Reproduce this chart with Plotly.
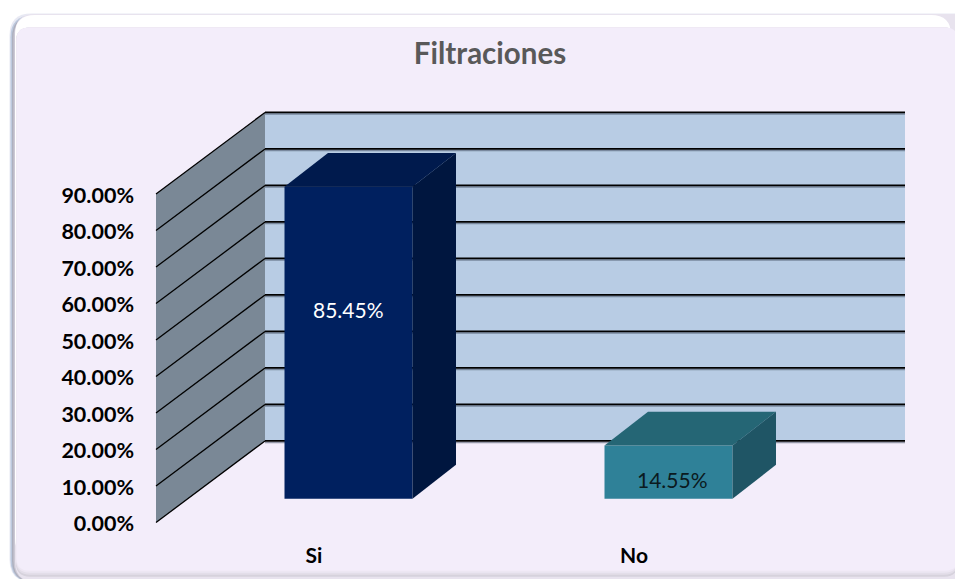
import plotly.graph_objects as go

# --- data ---
categories = ["Si", "No"]
values = [85.45, 14.55]
value_labels = ["85.45%", "14.55%"]
y_ticks = [0, 10, 20, 30, 40, 50, 60, 70, 80, 90]
y_tick_labels = ["0.00%", "10.00%", "20.00%", "30.00%", "40.00%", "50.00%", "60.00%", "70.00%", "80.00%", "90.00%"]

# --- pseudo-3D geometry, in axis units ---
X_UNIT = 320.0           # px per category
Y_UNIT = 3.667           # px per percentage point
Y_ZERO_PX = 524.5
WALL_DX = 109 / X_UNIT
WALL_DY = 82 / Y_UNIT
BAR_WIDTH = 128 / X_UNIT
BAR_DX = 43.5 / X_UNIT   # depth of a bar
BAR_DY = 34 / Y_UNIT
BAR_SHIFT_X = 32.5 / X_UNIT  # bar front relative to the floor's front edge
BAR_BASE = 24 / Y_UNIT

# --- layout in px ---
W, H = 955, 579
M_L, M_R, M_T, M_B = 153, 47, 108, 52
x_range = [-0.5 - 3 / X_UNIT, -0.5 + (W - M_R - 156) / X_UNIT]
y_range = [-(H - M_B - Y_ZERO_PX) / Y_UNIT, (Y_ZERO_PX - M_T) / Y_UNIT]

FRONT_COLORS = ["#00205F", "#2F8198"]
TOP_COLORS = ["#001A4D", "#256675"]
SIDE_COLORS = ["#00163F", "#1F5565"]
LABEL_COLORS = ["#FFFFFF", "#0B1A20"]
LABEL_SHIFT_PX = [(0, 33), (4, -7)]  # (right, up) from the bar front's centre


def px(x):
    return (x - M_L) / (W - M_L - M_R)


def py(y):
    return (H - M_B - y) / (H - M_T - M_B)


def rrect(x0, y0, x1, y1, r, fill):
    ax0, ax1 = px(x0), px(x1)
    ay0, ay1 = py(y0), py(y1)
    rx, ry = px(x0 + r) - px(x0), py(y0) - py(y0 + r)
    path = (
        f"M {ax0 + rx},{ay0} L {ax1 - rx},{ay0} Q {ax1},{ay0} {ax1},{ay0 - ry} "
        f"L {ax1},{ay1 + ry} Q {ax1},{ay1} {ax1 - rx},{ay1} "
        f"L {ax0 + rx},{ay1} Q {ax0},{ay1} {ax0},{ay1 + ry} "
        f"L {ax0},{ay0 - ry} Q {ax0},{ay0} {ax0 + rx},{ay0} Z"
    )
    return dict(type="path", xref="paper", yref="paper", path=path, fillcolor=fill,
                line=dict(width=0), layer="below")


shapes = [
    rrect(9.5, 13, 975, 584, 22, "#E8E9F3"),
    rrect(10.5, 15, 975, 584, 22, "#BCC9DE"),
    rrect(12, 16, 975, 584, 21, "#AEB0BE"),
    rrect(13.5, 16, 975, 584, 21, "#CBC8D4"),
    rrect(15, 13.5, 975, 584, 20, "#E8E3EE"),
    rrect(15, 14.5, 951, 560, 20, "#FFFFFF"),
    rrect(16, 27, 958, 579, 14, "#D6D2DC"),
    rrect(16, 27, 958, 577, 14, "#E3DEE9"),
    rrect(16, 27, 958, 575, 14, "#EDE7F3"),
    rrect(16.5, 27, 958, 573, 13, "#F3EDFA"),
]

# walls
x_l, x_r = -0.5, 1.5
shapes.append(dict(type="path", layer="below", xref="x", yref="y", fillcolor="#7A8896", line=dict(width=0),
                   path=f"M {x_l},{y_ticks[0]} L {x_l + WALL_DX},{y_ticks[0] + WALL_DY} "
                        f"L {x_l + WALL_DX},{y_ticks[-1] + WALL_DY} L {x_l},{y_ticks[-1]} Z"))
shapes.append(dict(type="path", layer="below", xref="x", yref="y", fillcolor="#B8CCE4", line=dict(width=0),
                   path=f"M {x_l + WALL_DX},{y_ticks[0] + WALL_DY} L {x_r + WALL_DX},{y_ticks[0] + WALL_DY} "
                        f"L {x_r + WALL_DX},{y_ticks[-1] + WALL_DY} L {x_l + WALL_DX},{y_ticks[-1] + WALL_DY} Z"))
# grid lines on the walls
for t in y_ticks:
    shapes.append(dict(type="line", layer="below", xref="x", yref="y", x0=x_l + WALL_DX, x1=x_r + WALL_DX,
                       y0=t + WALL_DY - 1.5 / Y_UNIT, y1=t + WALL_DY - 1.5 / Y_UNIT,
                       line=dict(color="rgba(70,80,100,0.55)", width=1.5)))
    shapes.append(dict(type="line", layer="below", xref="x", yref="y", x0=x_l + WALL_DX, x1=x_r + WALL_DX,
                       y0=t + WALL_DY, y1=t + WALL_DY, line=dict(color="#000000", width=1.8)))
    shapes.append(dict(type="line", layer="below", xref="x", yref="y", x0=x_l, x1=x_l + WALL_DX,
                       y0=t, y1=t + WALL_DY, line=dict(color="#000000", width=1.3)))

fig = go.Figure()

bar_x = [i + BAR_SHIFT_X for i in range(len(categories))]

# bar fronts
fig.add_trace(go.Bar(x=bar_x, y=values, base=[BAR_BASE] * len(values), width=BAR_WIDTH,
                     marker=dict(color=FRONT_COLORS, line=dict(width=0)), showlegend=False,
                     hoverinfo="skip"))

# bar tops and sides
for cx, v, top_c, side_c in zip(bar_x, values, TOP_COLORS, SIDE_COLORS):
    xl, xr = cx - BAR_WIDTH / 2, cx + BAR_WIDTH / 2
    y0, y1 = BAR_BASE, BAR_BASE + v
    fig.add_trace(go.Scatter(x=[xl, xr, xr + BAR_DX, xl + BAR_DX, xl],
                             y=[y1, y1, y1 + BAR_DY, y1 + BAR_DY, y1],
                             mode="lines", fill="toself", fillcolor=top_c, line=dict(width=0),
                             showlegend=False, hoverinfo="skip"))
    fig.add_trace(go.Scatter(x=[xr, xr + BAR_DX, xr + BAR_DX, xr, xr],
                             y=[y0, y0 + BAR_DY, y1 + BAR_DY, y1, y0],
                             mode="lines", fill="toself", fillcolor=side_c, line=dict(width=0),
                             showlegend=False, hoverinfo="skip"))

# value labels
annotations = []
for cx, v, lab, col, (sx, sy) in zip(bar_x, values, value_labels, LABEL_COLORS, LABEL_SHIFT_PX):
    annotations.append(dict(x=cx, y=BAR_BASE + v / 2, xref="x", yref="y", text=lab, showarrow=False,
                            xshift=sx, yshift=sy, font=dict(family="Lato", size=21, color=col)))

fig.update_layout(
    width=W, height=H, autosize=False,
    margin=dict(l=M_L, r=M_R, t=M_T, b=M_B, pad=0),
    paper_bgcolor="#FFFFFF", plot_bgcolor="rgba(0,0,0,0)",
    showlegend=False, barmode="overlay",
    shapes=shapes, annotations=annotations,
    title=dict(text="Filtraciones", x=490 / W, xanchor="center", y=1 - 54 / H, yanchor="middle",
               font=dict(family="Lato", size=29.5, color="#595959", weight="bold")),
    xaxis=dict(range=x_range, tickmode="array", tickvals=list(range(len(categories))), ticktext=categories,
               showgrid=False, zeroline=False, showline=False, ticks="",
               ticklabelstandoff=16, ticklabelshift=-2,
               tickfont=dict(family="Lato", size=21, color="#000000", weight="bold")),
    yaxis=dict(range=y_range, tickmode="array", tickvals=y_ticks, ticktext=y_tick_labels,
               showgrid=False, zeroline=False, showline=False, ticks="",
               ticklabelstandoff=18, ticklabelshift=1,
               tickfont=dict(family="Lato", size=21.5, color="#000000", weight="bold")),
    hovermode=False,
)

fig.write_html("out.html", post_script="document.body.style.margin='0';", config=dict(displayModeBar=False))
